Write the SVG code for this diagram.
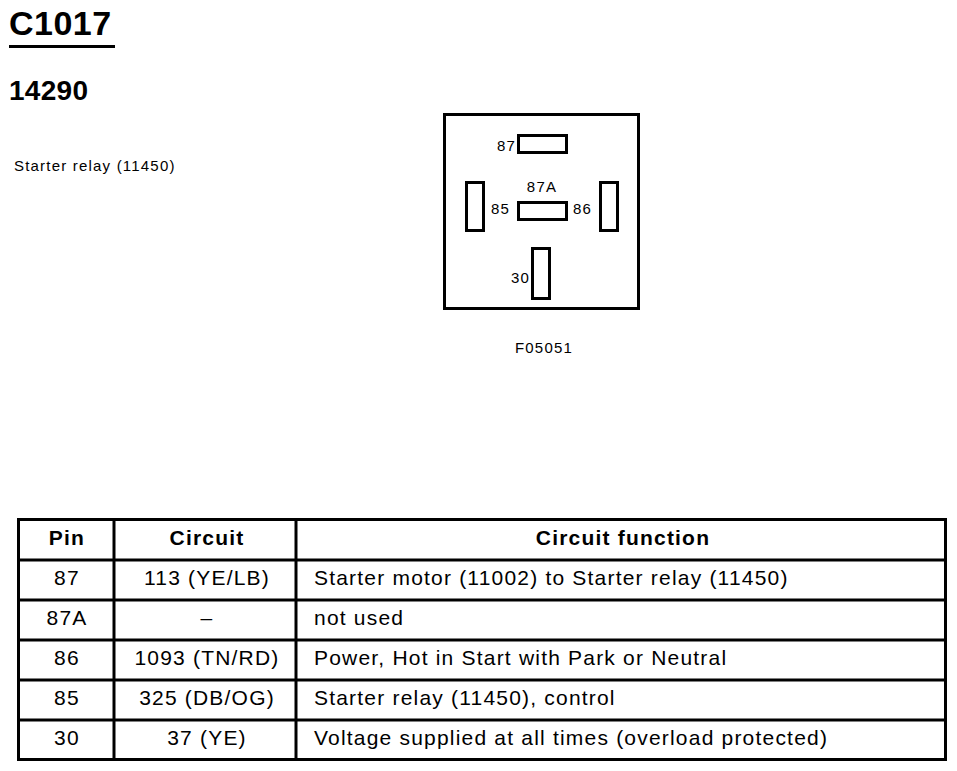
<svg xmlns="http://www.w3.org/2000/svg" width="957" height="771" viewBox="0 0 957 771">
<style>
text{font-family:"Liberation Sans",Arial,sans-serif;fill:#000}
.t{font-size:21px;letter-spacing:1.2px}
.h{font-size:21px;font-weight:bold;letter-spacing:1.2px}
.s{font-size:15px;letter-spacing:1.2px}
.c{text-anchor:middle}
.ln{stroke:#000;stroke-width:3;fill:none}
.term{stroke:#000;stroke-width:3;fill:#fff}
</style>
<rect width="957" height="771" fill="#fff"/>
<g id="title">
<text x="9" y="35" style="font-size:34px;font-weight:bold;letter-spacing:0.5px">C1017</text>
<line x1="9" y1="46.5" x2="115" y2="46.5" class="ln"/>
<text x="9" y="100" style="font-size:28px;font-weight:bold;letter-spacing:0.3px">14290</text>
<text x="14" y="171" class="s">Starter relay (11450)</text>
</g>
<g id="relay">
<rect x="444.5" y="114.5" width="194" height="194" class="ln"/>
<rect x="518.5" y="135.5" width="48" height="17" class="term"/>
<rect x="518.5" y="202.5" width="48" height="17" class="term"/>
<rect x="466.5" y="182.5" width="17" height="48" class="term"/>
<rect x="600.5" y="182.5" width="17" height="48" class="term"/>
<rect x="532.5" y="248.5" width="17" height="50" class="term"/>
<text x="516" y="151" class="s" text-anchor="end">87</text>
<text x="542" y="192" class="s c">87A</text>
<text x="510" y="214" class="s" text-anchor="end">85</text>
<text x="573" y="214" class="s">86</text>
<text x="530" y="283" class="s" text-anchor="end">30</text>
<text x="544" y="353" class="s c">F05051</text>
</g>
<g id="table">
<rect x="18.5" y="519.5" width="927" height="240" class="ln"/>
<line x1="114" y1="519" x2="114" y2="760" class="ln"/>
<line x1="296" y1="519" x2="296" y2="760" class="ln"/>
<line x1="18" y1="560" x2="946" y2="560" class="ln"/>
<line x1="18" y1="600" x2="946" y2="600" class="ln"/>
<line x1="18" y1="640" x2="946" y2="640" class="ln"/>
<line x1="18" y1="680" x2="946" y2="680" class="ln"/>
<line x1="18" y1="720" x2="946" y2="720" class="ln"/>
<text x="67" y="545" class="h c">Pin</text>
<text x="207" y="545" class="h c">Circuit</text>
<text x="623" y="545" class="h c">Circuit function</text>
<text x="67" y="585" class="t c">87</text>
<text x="207" y="585" class="t c">113 (YE/LB)</text>
<text x="314" y="585" class="t">Starter motor (11002) to Starter relay (11450)</text>
<text x="67" y="625" class="t c">87A</text>
<text x="207" y="625" class="t c">–</text>
<text x="314" y="625" class="t">not used</text>
<text x="67" y="665" class="t c">86</text>
<text x="207" y="665" class="t c">1093 (TN/RD)</text>
<text x="314" y="665" class="t">Power, Hot in Start with Park or Neutral</text>
<text x="67" y="705" class="t c">85</text>
<text x="207" y="705" class="t c">325 (DB/OG)</text>
<text x="314" y="705" class="t">Starter relay (11450), control</text>
<text x="67" y="745" class="t c">30</text>
<text x="207" y="745" class="t c">37 (YE)</text>
<text x="314" y="745" class="t">Voltage supplied at all times (overload protected)</text>
</g>
</svg>
